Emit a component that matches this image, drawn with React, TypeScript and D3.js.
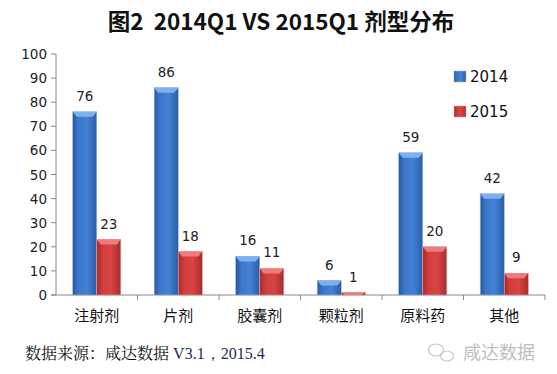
import React from "react";
import * as d3 from "d3";

const categories = ["注射剂", "片剂", "胶囊剂", "颗粒剂", "原料药", "其他"];
const series2014 = [76, 86, 16, 6, 59, 42];
const series2015 = [23, 18, 11, 1, 20, 9];
const seriesNames = ["2014", "2015"];
const yTicks = [0, 10, 20, 30, 40, 50, 60, 70, 80, 90, 100];

const W = 557, H = 374;
const left = 56, right = 545, top = 54, bottom = 295;

const CJK = "'Noto Sans CJK SC', sans-serif";
const NUM = "'DejaVu Sans', Verdana, sans-serif";

export default function App() {
  const x = d3.scaleBand<string>().domain(categories).range([left, right]).paddingInner(0).paddingOuter(0);
  const y = d3.scaleLinear().domain([0, 100]).range([bottom, top]);
  const bw = x.bandwidth() * 0.295;
  const series = [series2014, series2015];
  const grads = ["gBlue", "gRed"];
  const tops = ["#7fb0ee", "#ee7c7c"];
  const edgeCol = ["#9cb8dc", "#dca0a0"];

  const bar = (v: number, i: number, s: number) => {
    const c = categories[i];
    const cx = (x(c) as number) + x.bandwidth() / 2;
    const x0 = cx - bw + s * bw;
    const y0 = y(v);
    const h = bottom - y0;
    const bev = Math.min(5, h);
    return (
      <g key={`${s}-${i}`}>
        <rect x={x0} y={y0} width={bw} height={h} fill={`url(#${grads[s]})`} stroke={edgeCol[s]} strokeWidth={0.6} />
        {h > 1 && (
          <path
            d={`M${x0},${y0} L${x0 + bw},${y0} L${x0 + bw - 4},${y0 + bev} L${x0 + 4},${y0 + bev} Z`}
            fill={tops[s]}
          />
        )}
        <text x={x0 + bw / 2} y={y0 - 11} textAnchor="middle" fontFamily={NUM} fontSize={13.5} fill="#222">{v}</text>
      </g>
    );
  };

  return (
    <svg width={W} height={H} style={{ position: "absolute", left: 0, top: 0, background: "#fff" }}>
      <defs>
        <linearGradient id="gBlue" x1="0" x2="1" y1="0" y2="0">
          <stop offset="0" stopColor="#2858a0" />
          <stop offset="0.25" stopColor="#3c78cc" />
          <stop offset="0.6" stopColor="#4282d6" />
          <stop offset="1" stopColor="#2a5ca6" />
        </linearGradient>
        <linearGradient id="gRed" x1="0" x2="1" y1="0" y2="0">
          <stop offset="0" stopColor="#a82a2a" />
          <stop offset="0.25" stopColor="#d23c3c" />
          <stop offset="0.6" stopColor="#d84444" />
          <stop offset="1" stopColor="#a82c2c" />
        </linearGradient>
      </defs>
      <text x={281} y={30} textAnchor="middle" fontFamily={CJK} fontWeight="bold" fontSize={22.5} fill="#111">
        {"图2\u00a0\u00a02014Q1 VS 2015Q1 剂型分布"}
      </text>
      {yTicks.map(t => (
        <g key={t}>
          <line x1={left - 5} x2={left} y1={y(t)} y2={y(t)} stroke="#888" />
          <text x={left - 9} y={y(t) + 5} textAnchor="end" fontFamily={NUM} fontSize={13.5} fill="#222">{t}</text>
        </g>
      ))}
      <line x1={left} x2={left} y1={top} y2={bottom} stroke="#888" />
      <line x1={left - 5} x2={right} y1={bottom} y2={bottom} stroke="#888" />
      {categories.map((c, i) => (
        <g key={c}>
          <line x1={(x(c) as number) + x.bandwidth()} x2={(x(c) as number) + x.bandwidth()} y1={bottom} y2={bottom + 5} stroke="#888" />
          <text x={(x(c) as number) + x.bandwidth() / 2} y={321} textAnchor="middle" fontFamily={CJK} fontSize={15} fill="#111">{c}</text>
        </g>
      ))}
      {series.map((arr, s) => arr.map((v, i) => bar(v, i, s)))}
      {seriesNames.map((n, s) => (
        <g key={n}>
          <rect x={454} y={71 + s * 35} width={12} height={11} fill={`url(#${grads[s]})`} stroke={edgeCol[s]} strokeWidth={0.5} />
          <text x={470} y={82 + s * 35} fontFamily={NUM} fontSize={15} fill="#111">{n}</text>
        </g>
      ))}
      <text x={25} y={359} fontFamily="'Noto Serif CJK SC', 'Noto Sans CJK SC', serif" fontSize={16} fill="#111">
        数据来源：咸达数据 <tspan fontFamily="'Liberation Serif', serif" fill="#1a2a5a">V3.1，2015.4</tspan>
      </text>
      <g opacity={0.55}>
        <ellipse cx={436} cy={350} rx={7.5} ry={6} fill="none" stroke="#999" strokeWidth={1.2} />
        <ellipse cx={447} cy={356} rx={6.5} ry={5} fill="none" stroke="#999" strokeWidth={1.2} />
        <text x={463} y={359} fontFamily={CJK} fontSize={18} fill="#888">咸达数据</text>
      </g>
    </svg>
  );
}
